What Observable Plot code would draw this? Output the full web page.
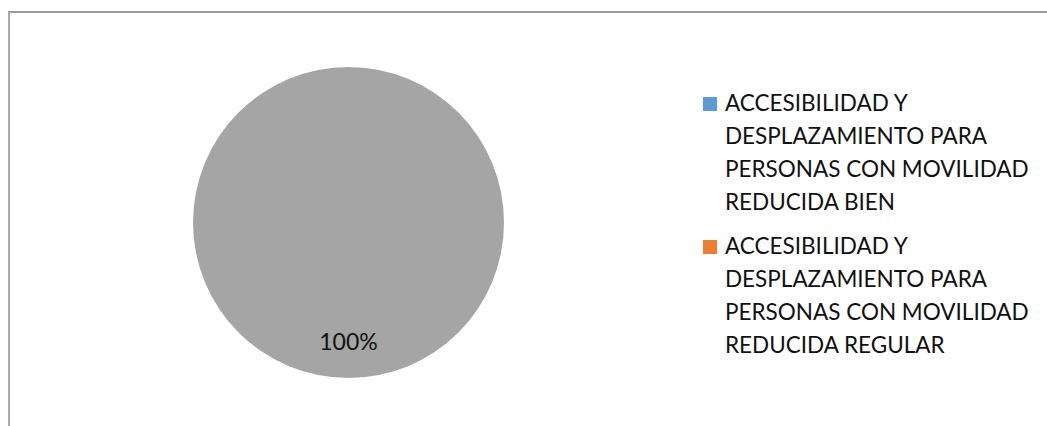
<!DOCTYPE html>
<html>
<head>
<meta charset="utf-8">
<script src="https://cdn.jsdelivr.net/npm/d3@7"></script>
<script src="https://cdn.jsdelivr.net/npm/@observablehq/plot@0.6"></script>
<style>
  html, body { margin: 0; padding: 0; background: #fff; width: 1047px; height: 426px; overflow: hidden; }
  #wrap { position: relative; width: 1047px; height: 426px; font-family: Lato, "Open Sans", sans-serif; }
  #frame { position: absolute; left: 8px; top: 11px; width: 1100px; height: 500px;
           border-top: 2px solid #9c9c9c; border-left: 2px solid #ababab; box-sizing: border-box; }
  #chart { position: absolute; left: 0; top: 0; }
  #legend { position: absolute; left: 703px; top: 86px; }
  .item { display: flex; align-items: flex-start; margin-bottom: 11px; }
  .sw { width: 14px; height: 14px; margin-top: 11px; margin-right: 8px; flex: none; }
  .lbl { font-size: 22.5px; line-height: 33px; color: #111; width: 330px; white-space: nowrap; }
</style>
</head>
<body>
<div id="wrap">
  <div id="frame"></div>
  <div id="chart"></div>
  <div id="legend"></div>
</div>
<script>
const categories = [
  "ACCESIBILIDAD Y DESPLAZAMIENTO PARA PERSONAS CON MOVILIDAD REDUCIDA BIEN",
  "ACCESIBILIDAD Y DESPLAZAMIENTO PARA PERSONAS CON MOVILIDAD REDUCIDA REGULAR",
  "ACCESIBILIDAD Y DESPLAZAMIENTO PARA PERSONAS CON MOVILIDAD REDUCIDA MAL"
];
const values = [0, 0, 100];
const colors = ["#5B9BD5", "#ED7D31", "#A5A5A5"];
const legendCount = 2;
const legendLines = [
  ["ACCESIBILIDAD Y", "DESPLAZAMIENTO PARA", "PERSONAS CON MOVILIDAD", "REDUCIDA BIEN"],
  ["ACCESIBILIDAD Y", "DESPLAZAMIENTO PARA", "PERSONAS CON MOVILIDAD", "REDUCIDA REGULAR"]
];

const data = categories.map((c, i) => ({category: c, value: values[i]}));
const total = d3.sum(values);

const W = 1047, H = 426;
const cx = 348.5, cy = 222.5, R = 155.5;

const color = d3.scaleOrdinal(categories, colors);
const arcs = d3.pie().sort(null).value(d => d.value)(data);
const arcGen = d3.arc().innerRadius(0).outerRadius(R);
const labelArc = d3.arc().innerRadius(R * 0.77).outerRadius(R * 0.77);

const pieMark = (index, scales, vals, dimensions, context) => {
  const g = d3.create("svg:g").attr("transform", `translate(${cx},${cy})`);
  g.selectAll("path")
    .data(arcs.filter(a => a.data.value > 0))
    .join("path")
    .attr("d", arcGen)
    .attr("fill", a => color(a.data.category));
  g.selectAll("text")
    .data(arcs.filter(a => a.data.value > 0))
    .join("text")
    .attr("transform", a => `translate(${labelArc.centroid(a)})`)
    .attr("text-anchor", "middle")
    .attr("dy", "0.35em")
    .attr("font-family", "Lato, 'Open Sans', sans-serif")
    .attr("font-size", 23)
    .attr("fill", "#111")
    .text(a => Math.round(a.data.value / total * 100) + "%");
  return g.node();
};

const chart = Plot.plot({
  width: W,
  height: H,
  margin: 0,
  x: {axis: null},
  y: {axis: null},
  style: {background: "transparent", overflow: "visible"},
  marks: [pieMark]
});
document.getElementById("chart").appendChild(chart);

const legend = d3.select("#legend");
const items = legend.selectAll(".item")
  .data(categories.slice(0, legendCount))
  .join("div").attr("class", "item");
items.append("div").attr("class", "sw").style("background", d => color(d));
items.append("div").attr("class", "lbl")
  .html((d, i) => legendLines[i].join("<br>"));
</script>
</body>
</html>
